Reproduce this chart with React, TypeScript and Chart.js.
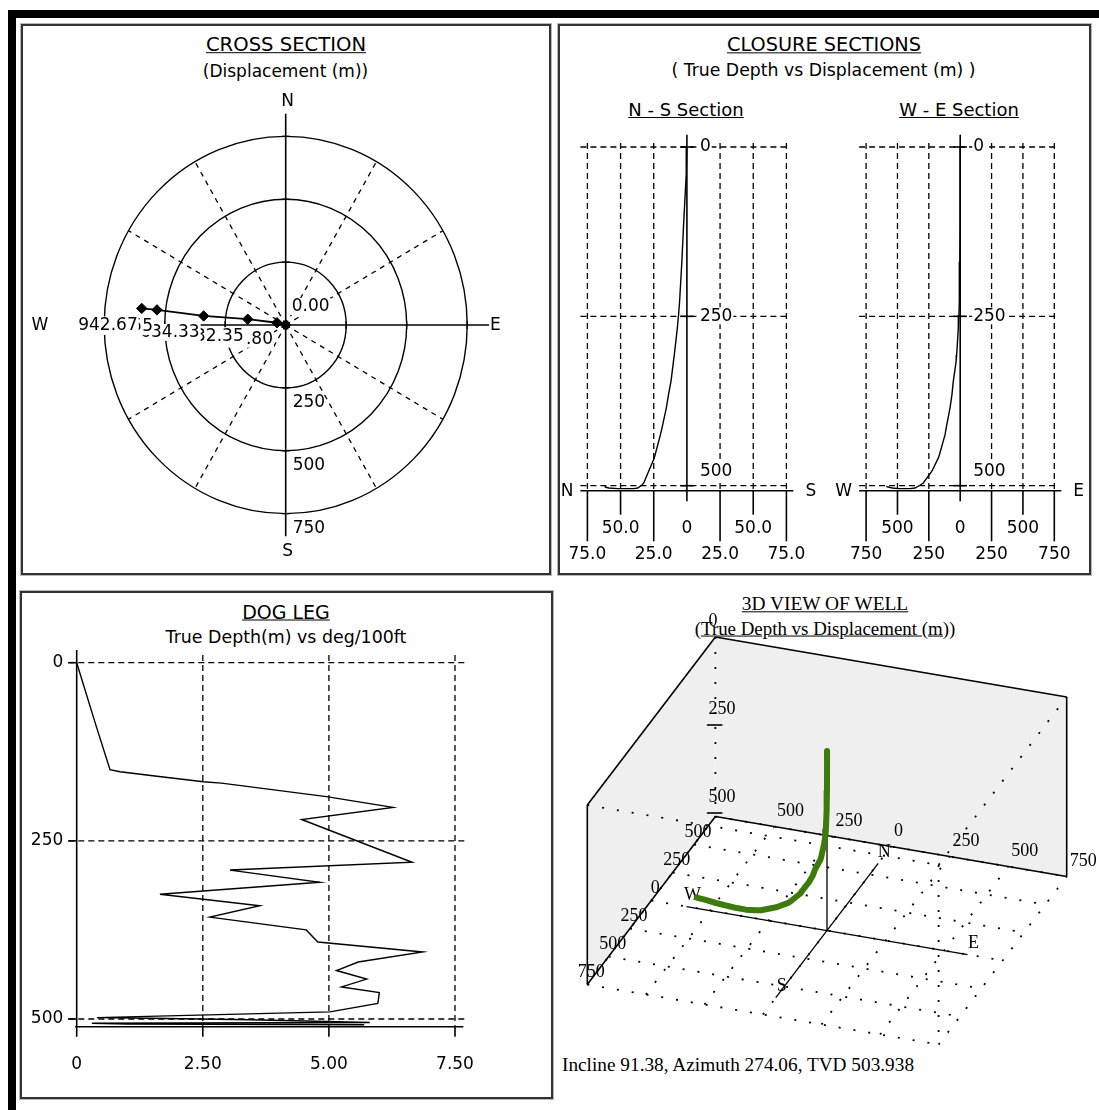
import React, { useEffect, useRef } from 'react';
import { Chart, registerables } from 'chart.js';

Chart.register(...registerables);

const PAGE_W = 1099;
const PAGE_H = 1110;
const SANS = '"DejaVu Sans", sans-serif';
const SERIF = '"Liberation Serif", serif';
const LBL = `17px ${SANS}`;
const LBL3D = `18px ${SERIF}`;

// ---------------- DATA ----------------
// Cross section (plan view) stations: east (+) / north (+) displacement, m
const XS_EAST = [0, -36, -157, -339, -532, -595];
const XS_NORTH = [0, 9, 23, 36, 60, 66];
const XS_MD = ['0.00', '301.80', '432.35', '634.33', '879.55', '942.67'];
const XS_RINGS = [250, 500, 750];
const XS_AXIS_MAX = 840;

// Well path: true vertical depth, north, east (m)
const WELL_TVD = [0, 40, 115, 169, 228, 248, 267, 307, 316, 346, 366, 385, 415, 425, 454, 459, 479, 496, 499, 503.4, 504.4, 504.4, 503.4, 502, 501];
const WELL_NORTH = [0, 0.5, 2.5, 3.8, 5.5, 6.3, 7.2, 9.5, 10.1, 12, 13.9, 15.5, 18.8, 20, 23.9, 24.6, 28.9, 32.5, 33.9, 37, 40, 52, 59, 61.5, 62];
const WELL_EAST = [0, 0, -1, -3, -7, -10, -15, -28, -32, -55, -66, -81, -112, -121, -165, -174, -227, -294, -318, -360, -400, -493, -540, -575, -590];

// Closure sections
const NS_TICKS = [-75, -50, -25, 0, 25, 50, 75];
const WE_TICKS = [-750, -500, -250, 0, 250, 500, 750];
const DEPTH_TICKS = [0, 250, 500];
const DEPTH_AXIS_MAX = 507.4;

// Dog leg (deg/100ft vs true depth)
const DL_DEPTH = [0, 83, 150, 153, 159, 167, 169, 188, 203, 220, 280, 291, 308, 325, 341, 357, 375, 392, 406, 420, 432, 444, 455, 463, 478, 490, 498, 499, 501, 505, 506, 507, 508];
const DL_VALUE = [0, 0.36, 0.66, 0.86, 1.55, 2.51, 2.87, 4.95, 6.27, 4.46, 6.65, 3.04, 4.82, 1.65, 3.63, 2.64, 4.55, 4.78, 6.86, 5.58, 5.15, 5.75, 5.25, 6.0, 5.97, 5.02, 0.4, 1.45, 3.43, 5.81, 0.3, 0.99, 5.7];
const DL_TICKS = [0, 2.5, 5, 7.5];
const DL_DEPTH_MAX = 510.8;

// 3D view
const GRID_3D = [-750, -500, -250, 0, 250, 500, 750];
const DEPTH_3D_TICKS = [0, 250, 500];
const COMPASS_3D = 600;
const FLOOR_TVD = 510;
const INCLINE = '91.38';
const AZIMUTH = '274.06';
const TVD_FINAL = '503.938';

// ---------------- helpers ----------------
type Area = { left: number; top: number; right: number; bottom: number };

function seg(ctx: any, x1: number, y1: number, x2: number, y2: number, w = 1.2, dash: number[] = [], color = '#000') {
  ctx.save();
  ctx.beginPath();
  ctx.setLineDash(dash);
  ctx.lineWidth = w;
  ctx.strokeStyle = color;
  ctx.moveTo(x1, y1);
  ctx.lineTo(x2, y2);
  ctx.stroke();
  ctx.restore();
}

function txt(ctx: any, s: string, x: number, y: number, opt: { font?: string; align?: string; bg?: boolean } = {}) {
  const font = opt.font || LBL;
  const align = opt.align || 'center';
  ctx.save();
  ctx.font = font;
  ctx.textAlign = align;
  ctx.textBaseline = 'middle';
  if (opt.bg) {
    const w = ctx.measureText(s).width;
    const lx = align === 'center' ? x - w / 2 : align === 'right' ? x - w : x;
    ctx.fillStyle = '#fff';
    ctx.fillRect(lx - 1, y - 9, w + 2, 17);
  }
  ctx.fillStyle = '#000';
  ctx.fillText(s, x, y);
  ctx.restore();
}

function poly(ctx: any, pts: number[][], fill: string) {
  ctx.save();
  ctx.beginPath();
  pts.forEach(([x, y], i) => (i ? ctx.lineTo(x, y) : ctx.moveTo(x, y)));
  ctx.closePath();
  ctx.fillStyle = fill;
  ctx.fill();
  ctx.restore();
}

function makeConfig(area: Area, xOpt: any, yOpt: any, datasets: any[], before: (c: any) => void, after?: (c: any) => void): any {
  return {
    type: 'scatter',
    data: { datasets },
    options: {
      animation: false,
      responsive: false,
      events: [],
      layout: { padding: { left: area.left, top: area.top, right: PAGE_W - area.right, bottom: PAGE_H - area.bottom } },
      plugins: { legend: { display: false }, tooltip: { enabled: false }, title: { display: false } },
      scales: {
        x: { type: 'linear', display: false, ...xOpt },
        y: { type: 'linear', display: false, ...yOpt },
      },
    },
    plugins: [
      {
        id: 'deco',
        beforeDatasetsDraw: (c: any) => before(c),
        afterDatasetsDraw: (c: any) => { if (after) after(c); },
      },
    ],
  };
}

const lineDs = (pts: any[], color = '#000', width = 1.3, extra: any = {}) => ({
  data: pts,
  showLine: true,
  borderColor: color,
  borderWidth: width,
  pointRadius: 0,
  fill: false,
  tension: 0,
  clip: false,
  ...extra,
});

// ---------------- Cross section ----------------
const XS_C = { x: 285.7, y: 325 };
const XS_K = { x: 0.242, y: 0.2515 };

function crossConfig() {
  const area = {
    left: XS_C.x - XS_AXIS_MAX * XS_K.x,
    right: XS_C.x + XS_AXIS_MAX * XS_K.x,
    top: XS_C.y - XS_AXIS_MAX * XS_K.y,
    bottom: XS_C.y + XS_AXIS_MAX * XS_K.y,
  };
  const pts = XS_EAST.map((e, i) => ({ x: e, y: XS_NORTH[i] }));
  const ds = lineDs(pts, '#000', 1.8, {
    pointRadius: 5.2,
    pointStyle: 'rectRot',
    pointBackgroundColor: '#000',
    pointBorderColor: '#000',
    pointBorderWidth: 1,
  });
  const before = (c: any) => {
    const ctx = c.ctx;
    const xs = c.scales.x;
    const ys = c.scales.y;
    const cx = xs.getPixelForValue(0);
    const cy = ys.getPixelForValue(0);
    for (const r of XS_RINGS) {
      const rx = xs.getPixelForValue(r) - cx;
      const ry = cy - ys.getPixelForValue(r);
      ctx.save();
      ctx.beginPath();
      ctx.lineWidth = 1.4;
      ctx.strokeStyle = '#000';
      ctx.ellipse(cx, cy, rx, ry, 0, 0, Math.PI * 2);
      ctx.stroke();
      ctx.restore();
    }
    const rMax = XS_RINGS[XS_RINGS.length - 1];
    for (let a = 30; a < 360; a += 30) {
      if (a % 90 === 0) continue;
      const t = (a * Math.PI) / 180;
      seg(ctx, cx, cy, xs.getPixelForValue(rMax * Math.sin(t)), ys.getPixelForValue(rMax * Math.cos(t)), 1.3, [5, 5]);
    }
    seg(ctx, xs.getPixelForValue(-XS_AXIS_MAX), cy, xs.getPixelForValue(XS_AXIS_MAX), cy, 1.6);
    seg(ctx, cx, ys.getPixelForValue(XS_AXIS_MAX), cx, ys.getPixelForValue(-XS_AXIS_MAX), 1.6);
    for (const r of XS_RINGS) {
      for (const s of [-1, 1]) {
        const x = xs.getPixelForValue(s * r);
        seg(ctx, x, cy - 4, x, cy + 4, 1.3);
        const y = ys.getPixelForValue(s * r);
        seg(ctx, cx - 4, y, cx + 4, y, 1.3);
      }
    }
    txt(ctx, 'N', cx + 2, ys.getPixelForValue(XS_AXIS_MAX) - 12.5);
    txt(ctx, 'S', cx + 2, ys.getPixelForValue(-XS_AXIS_MAX) + 15);
    txt(ctx, 'E', xs.getPixelForValue(XS_AXIS_MAX) + 1, cy + 1, { align: 'left' });
    txt(ctx, 'W', xs.getPixelForValue(-XS_AXIS_MAX) - 34, cy + 1, { align: 'right' });
    XS_RINGS.forEach((r) => txt(ctx, String(r), cx + 7, ys.getPixelForValue(-r) + 15, { align: 'left' }));
  };
  const after = (c: any) => {
    const ctx = c.ctx;
    const xs = c.scales.x;
    const ys = c.scales.y;
    for (let i = 1; i < XS_EAST.length; i++) {
      const px = xs.getPixelForValue(XS_EAST[i]);
      const py = ys.getPixelForValue(XS_NORTH[i]);
      txt(ctx, XS_MD[i], px - 4, py + 17, { align: 'right', bg: true });
    }
    const p0x = xs.getPixelForValue(XS_EAST[0]);
    const p0y = ys.getPixelForValue(XS_NORTH[0]);
    txt(ctx, XS_MD[0], p0x + 6, p0y - 18, { align: 'left', bg: true });
  };
  return makeConfig(area, { min: -XS_AXIS_MAX, max: XS_AXIS_MAX }, { min: -XS_AXIS_MAX, max: XS_AXIS_MAX }, [ds], before, after);
}

// ---------------- Closure sections ----------------
function closureConfig(area: Area, ticks: number[], reverseX: boolean, values: number[], fmt: (v: number) => string, leftL: string, rightL: string) {
  const pts = values.map((v, i) => ({ x: v, y: WELL_TVD[i] }));
  const before = (c: any) => {
    const ctx = c.ctx;
    const xs = c.scales.x;
    const ys = c.scales.y;
    const a = c.chartArea;
    const x0 = xs.getPixelForValue(0);
    DEPTH_TICKS.forEach((d) => {
      const y = ys.getPixelForValue(d);
      seg(ctx, a.left - 7, y, a.right + 3, y, 1.3, [6, 4]);
    });
    ticks.forEach((t) => {
      if (t === 0) return;
      const x = xs.getPixelForValue(t);
      seg(ctx, x, a.top - 4, x, a.bottom, 1.3, [6, 4]);
    });
    seg(ctx, x0, a.top - 12.3, x0, a.bottom + 10.6, 1.6);
    seg(ctx, a.left - 7, a.bottom, a.right + 7, a.bottom, 1.6);
    DEPTH_TICKS.forEach((d) => {
      const y = ys.getPixelForValue(d);
      seg(ctx, x0 - 6.7, y, x0 + 6.7, y, 1.6);
    });
    const mid = ticks.indexOf(0);
    ticks.forEach((t, i) => {
      const k = Math.abs(i - mid);
      const x = xs.getPixelForValue(t);
      const upper = k % 2 === 0;
      if (k !== 0) seg(ctx, x, a.bottom, x, a.bottom + (upper ? 24 : 50.6), 1.6);
      txt(ctx, fmt(Math.abs(t)), x, a.bottom + (upper ? 38.3 : 64));
    });
    DEPTH_TICKS.forEach((d, i) => {
      let y = ys.getPixelForValue(d);
      if (i === DEPTH_TICKS.length - 1) y -= 14;
      txt(ctx, String(d), x0 + 13, y, { align: 'left', bg: true });
    });
    txt(ctx, leftL, a.left - 14, a.bottom + 1, { align: 'right' });
    txt(ctx, rightL, a.right + 19, a.bottom + 1, { align: 'left' });
  };
  const lo = ticks[0];
  const hi = ticks[ticks.length - 1];
  return makeConfig(
    area,
    { min: lo, max: hi, reverse: reverseX },
    { min: 0, max: DEPTH_AXIS_MAX, reverse: true },
    [lineDs(pts, '#000', 1.4)],
    before
  );
}

// ---------------- Dog leg ----------------
function dogLegConfig() {
  const area = { left: 76.7, right: 455, top: 662.7, bottom: 1026.7 };
  const pts = DL_VALUE.map((v, i) => ({ x: v, y: DL_DEPTH[i] }));
  const before = (c: any) => {
    const ctx = c.ctx;
    const xs = c.scales.x;
    const ys = c.scales.y;
    const a = c.chartArea;
    const x0 = xs.getPixelForValue(0);
    DEPTH_TICKS.forEach((d) => {
      const y = ys.getPixelForValue(d);
      seg(ctx, a.left - 8.4, y, a.right + 11.7, y, 1.3, [6, 4]);
      seg(ctx, a.left - 8.4, y, a.left, y, 1.6);
      txt(ctx, String(d), a.left - 13.4, y, { align: 'right' });
    });
    DL_TICKS.forEach((t) => {
      const x = xs.getPixelForValue(t);
      if (t !== 0) {
        seg(ctx, x, a.top - 7.7, x, a.bottom, 1.3, [6, 4]);
        seg(ctx, x, a.bottom, x, a.bottom + 10, 1.6);
      }
      txt(ctx, t === 0 ? '0' : t.toFixed(2), x, a.bottom + 38.3);
    });
    seg(ctx, x0, a.top - 12.7, x0, a.bottom + 10, 1.6);
    seg(ctx, a.left - 1.7, a.bottom, a.right + 8.3, a.bottom, 1.6);
  };
  return makeConfig(
    area,
    { min: DL_TICKS[0], max: DL_TICKS[DL_TICKS.length - 1] },
    { min: 0, max: DL_DEPTH_MAX, reverse: true },
    [lineDs(pts, '#000', 1.4)],
    before
  );
}

// ---------------- 3D view ----------------
const PROJ = { ox: 827, oy: 751, ex: 0.2342, ey: 0.04, nx: 0.0854, ny: -0.112, dy: 0.352 };
function project(e: number, n: number, d: number) {
  return { x: PROJ.ox + e * PROJ.ex + n * PROJ.nx, y: PROJ.oy + d * PROJ.dy + e * PROJ.ey + n * PROJ.ny };
}

function view3DConfig() {
  const area = { left: 0, right: PAGE_W, top: 0, bottom: PAGE_H };
  const pts = WELL_TVD.map((d, i) => project(WELL_EAST[i], WELL_NORTH[i], d));
  const before = (c: any) => {
    const ctx = c.ctx;
    const xs = c.scales.x;
    const ys = c.scales.y;
    const P = (e: number, n: number, d: number) => {
      const p = project(e, n, d);
      return [xs.getPixelForValue(p.x), ys.getPixelForValue(p.y)];
    };
    const S = (p: number[], q: number[], w: number, dash: number[] = []) => seg(ctx, p[0], p[1], q[0], q[1], w, dash);
    const g0 = GRID_3D[0];
    const g1 = GRID_3D[GRID_3D.length - 1];
    const F = FLOOR_TVD;
    poly(ctx, [P(g0, g0, 0), P(g0, g1, 0), P(g0, g1, F), P(g0, g0, F)], '#efefef');
    poly(ctx, [P(g0, g1, 0), P(g1, g1, 0), P(g1, g1, F), P(g0, g1, F)], '#efefef');
    const dot = [2, 13];
    GRID_3D.forEach((v) => {
      S(P(v, g0, F), P(v, g1, F), 1.8, dot);
      S(P(g0, v, F), P(g1, v, F), 1.8, dot);
    });
    S(P(g0, g1, 0), P(g0, g1, F), 1.8, dot);
    S(P(g0, g0, 0), P(g1, g0, 0), 1.8, dot);
    S(P(g1, g0, 0), P(g1, g1, 0), 1.8, dot);
    S(P(g1, g0, 0), P(g1, g0, F), 1.8, dot);
    S(P(g0, g0, 0), P(g0, g1, 0), 1.6);
    S(P(g0, g1, 0), P(g1, g1, 0), 1.6);
    S(P(g0, g0, 0), P(g0, g0, F), 1.6);
    S(P(g1, g1, 0), P(g1, g1, F), 1.6);
    S(P(g0, g0, F), P(g0, g1, F), 1.6);
    S(P(g0, g1, F), P(g1, g1, F), 1.6);
    const C = COMPASS_3D;
    S(P(0, C, F), P(0, -C, F), 1.3);
    S(P(-C, 0, F), P(C, 0, F), 1.3);
    S(P(0, 0, 0), P(0, 0, F), 1.3);
    DEPTH_3D_TICKS.forEach((d) => {
      const [x, y] = P(g0, g1, d);
      if (d > 0) seg(ctx, x - 8.5, y, x + 7, y, 1.6);
      txt(ctx, String(d), x - 7, y - 16, { align: 'left', font: LBL3D });
    });
    GRID_3D.forEach((v) => {
      if (v === g1) return;
      const [x, y] = P(g0, v, F);
      txt(ctx, String(Math.abs(v)), x + 4, y - 12, { font: LBL3D });
    });
    GRID_3D.forEach((v) => {
      if (v === g0) return;
      const [x, y] = P(v, g1, F);
      txt(ctx, String(Math.abs(v)), x + 3, y - 15, { align: 'left', font: LBL3D });
    });
    const compass: [string, number, number][] = [['N', 0, C], ['S', 0, -C], ['E', C, 0], ['W', -C, 0]];
    compass.forEach(([s, e, n]) => {
      const [x, y] = P(e, n, F);
      txt(ctx, s, x + 6, y - 11, { font: LBL3D });
    });
  };
  return makeConfig(
    area,
    { min: 0, max: PAGE_W },
    { min: 0, max: PAGE_H, reverse: true },
    [lineDs(pts, '#3b7a0b', 6, { borderJoinStyle: 'round', borderCapStyle: 'butt' })],
    before
  );
}

// ---------------- React ----------------
function Txt(props: { x: number; y: number; size: number; serif?: boolean; u?: boolean; left?: boolean; children: any }) {
  return (
    <div
      style={{
        position: 'absolute',
        left: props.x,
        top: props.y,
        transform: props.left ? 'translate(0,-50%)' : 'translate(-50%,-50%)',
        fontFamily: props.serif ? SERIF : SANS,
        fontSize: props.size,
        lineHeight: 1,
        whiteSpace: 'nowrap',
        textDecoration: props.u ? 'underline' : 'none',
        color: '#000',
      }}
    >
      {props.children}
    </div>
  );
}

const boxStyle = (l: number, t: number, r: number, b: number): any => ({
  position: 'absolute',
  left: l,
  top: t,
  width: r - l,
  height: b - t,
  border: '2px solid #333',
  boxSizing: 'border-box',
  boxShadow: '0 0 0 1px #b8b8b8',
});

const canvasStyle: any = { position: 'absolute', left: 0, top: 0 };

export default function App() {
  const r1 = useRef<HTMLCanvasElement>(null);
  const r2 = useRef<HTMLCanvasElement>(null);
  const r3 = useRef<HTMLCanvasElement>(null);
  const r4 = useRef<HTMLCanvasElement>(null);
  const r5 = useRef<HTMLCanvasElement>(null);

  useEffect(() => {
    const charts = [
      new Chart(r1.current as any, crossConfig()),
      new Chart(
        r2.current as any,
        closureConfig({ left: 587.4, right: 786.4, top: 147, bottom: 490.7 }, NS_TICKS, true, WELL_NORTH, (v) => (v === 0 ? '0' : v.toFixed(1)), 'N', 'S')
      ),
      new Chart(
        r3.current as any,
        closureConfig({ left: 866.1, right: 1054.3, top: 147, bottom: 490.7 }, WE_TICKS, false, WELL_EAST, (v) => String(v), 'W', 'E')
      ),
      new Chart(r4.current as any, dogLegConfig()),
      new Chart(r5.current as any, view3DConfig()),
    ];
    return () => charts.forEach((c) => c.destroy());
  }, []);

  return (
    <div style={{ position: 'absolute', left: 0, top: 0, width: PAGE_W, height: PAGE_H, background: '#fff', overflow: 'hidden' }}>
      <div style={{ position: 'absolute', left: 8, top: 10, width: PAGE_W - 8, height: 7.5, background: '#000' }} />
      <div style={{ position: 'absolute', left: 8, top: 10, width: 8, height: PAGE_H - 10, background: '#000' }} />
      <div style={boxStyle(21, 24, 551, 575)} />
      <div style={boxStyle(557.5, 24, 1091, 575)} />
      <div style={boxStyle(19.5, 591, 552.5, 1099)} />

      <Txt x={286} y={45} size={19.6} u>CROSS SECTION</Txt>
      <Txt x={285.5} y={71} size={17}>(Displacement (m))</Txt>
      <Txt x={824} y={45} size={19.3} u>CLOSURE SECTIONS</Txt>
      <Txt x={823.5} y={71} size={17.3}>( True Depth vs Displacement (m) )</Txt>
      <Txt x={686} y={110} size={18} u>N - S Section</Txt>
      <Txt x={959} y={110} size={18} u>W - E Section</Txt>
      <Txt x={286} y={611.5} size={19} u>DOG LEG</Txt>
      <Txt x={286} y={637.5} size={17.4}>True Depth(m) vs deg/100ft</Txt>
      <Txt x={825} y={604} size={19.4} serif u>3D VIEW OF WELL</Txt>
      <Txt x={825} y={628.5} size={18.9} serif u>(True Depth vs Displacement (m))</Txt>
      <Txt x={562} y={1065} size={19.3} serif left>
        {`Incline ${INCLINE}, Azimuth ${AZIMUTH}, TVD ${TVD_FINAL}`}
      </Txt>

      <canvas ref={r1} width={PAGE_W} height={PAGE_H} style={canvasStyle} />
      <canvas ref={r2} width={PAGE_W} height={PAGE_H} style={canvasStyle} />
      <canvas ref={r3} width={PAGE_W} height={PAGE_H} style={canvasStyle} />
      <canvas ref={r4} width={PAGE_W} height={PAGE_H} style={canvasStyle} />
      <canvas ref={r5} width={PAGE_W} height={PAGE_H} style={canvasStyle} />
    </div>
  );
}
